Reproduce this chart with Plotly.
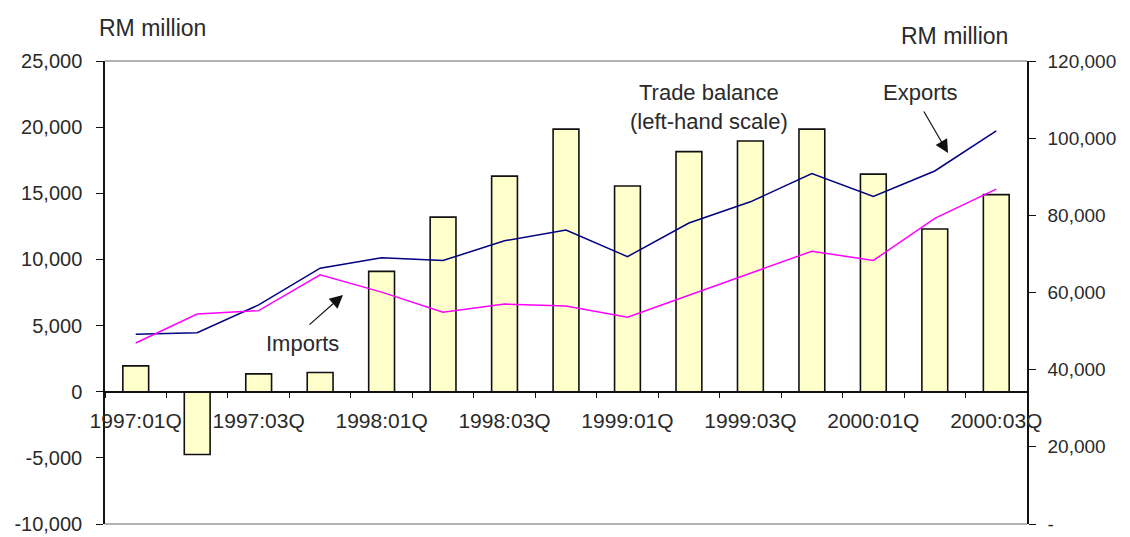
import plotly.graph_objects as go

quarters = ["1997:01Q", "1997:02Q", "1997:03Q", "1997:04Q",
            "1998:01Q", "1998:02Q", "1998:03Q", "1998:04Q",
            "1999:01Q", "1999:02Q", "1999:03Q", "1999:04Q",
            "2000:01Q", "2000:02Q", "2000:03Q"]
tick_labels = [q if i % 2 == 0 else "" for i, q in enumerate(quarters)]

trade_balance = [1950, -4750, 1350, 1450, 9100, 13200, 16300, 19850,
                 15550, 18150, 18950, 19850, 16450, 12300, 14900]
exports = [49200, 49600, 56800, 66300, 69000, 68300, 73400, 76200,
           69300, 78000, 83500, 90800, 84900, 91500, 101900]
imports = [46900, 54400, 55300, 64600, 60100, 54900, 57000, 56500,
           53600, 59400, 65000, 70700, 68300, 79200, 86800]

left_ticks = [-10000, -5000, 0, 5000, 10000, 15000, 20000, 25000]
left_tick_text = ["-10,000", "-5,000", "0", "5,000", "10,000", "15,000", "20,000", "25,000"]
right_ticks = [0, 20000, 40000, 60000, 80000, 100000, 120000]
right_tick_text = ["-", "20,000", "40,000", "60,000", "80,000", "100,000", "120,000"]

W, H = 1130, 537
L, R, T, B = 105, 1027, 61, 524
TXT = "#2a2a2a"
FONT = "Liberation Sans, Arial, sans-serif"


def px(xp):
    return (xp - L) / (R - L)


def py(yp):
    return (B - yp) / (B - T)


fig = go.Figure()
fig.add_trace(go.Bar(
    x=quarters, y=trade_balance, name="Trade balance", yaxis="y",
    width=0.42, marker=dict(color="#FFFFCC", line=dict(color="#111111", width=1.6)),
))
fig.add_trace(go.Scatter(
    x=quarters, y=exports, name="Exports", yaxis="y2", mode="lines",
    line=dict(color="#000080", width=1.5),
))
fig.add_trace(go.Scatter(
    x=quarters, y=imports, name="Imports", yaxis="y2", mode="lines",
    line=dict(color="#FF00FF", width=1.5),
))

fig.update_layout(
    width=W, height=H,
    margin=dict(l=L, r=W - R, t=T, b=H - B, autoexpand=False),
    paper_bgcolor="white", plot_bgcolor="white",
    showlegend=False,
    font=dict(family=FONT, color=TXT, size=20),
    xaxis=dict(
        type="category", range=[-0.5, 14.5],
        tickvals=quarters, ticktext=tick_labels,
        tickson="boundaries", ticks="outside", ticklen=6, tickwidth=1.3,
        tickcolor="#111111",
        showline=True, linecolor="#111111", linewidth=1.5,
        showgrid=False, zeroline=False, automargin=False,
        anchor="free", position=10000 / 35000,
        tickfont=dict(size=21, color=TXT), ticklabelstandoff=10,
        tickangle=0,
    ),
    yaxis=dict(
        range=[-10000, 25000], tickvals=left_ticks, ticktext=left_tick_text,
        ticks="outside", ticklen=7, tickcolor="#111111",
        showline=True, linecolor="#111111", linewidth=1.5,
        showgrid=False, zeroline=False, ticklabeloverflow="allow",
        automargin=False,
        tickfont=dict(size=20, color=TXT), ticklabelstandoff=10,
    ),
    yaxis2=dict(
        range=[0, 120000], tickvals=right_ticks, ticktext=right_tick_text,
        overlaying="y", side="right",
        ticks="outside", ticklen=7, tickcolor="#111111",
        showline=True, linecolor="#111111", linewidth=1.5,
        showgrid=False, zeroline=False, ticklabeloverflow="allow",
        automargin=False,
        tickfont=dict(size=19, color=TXT), ticklabelstandoff=8,
    ),
    shapes=[
        dict(type="line", xref="paper", yref="paper", x0=0, x1=1, y0=1, y1=1,
             line=dict(color="#999999", width=1.5)),
        dict(type="line", xref="paper", yref="paper", x0=0, x1=1, y0=0, y1=0,
             line=dict(color="#999999", width=1.5)),
    ],
)

annotations = [
    dict(text="RM million", x=px(97), y=py(28), xanchor="left", yanchor="middle",
         font=dict(size=23)),
    dict(text="RM million", x=px(1010), y=py(36), xanchor="right", yanchor="middle",
         font=dict(size=23)),
    dict(text="Trade balance<br>(left-hand scale)", x=px(709), y=py(107),
         xanchor="center", yanchor="middle", font=dict(size=22)),
    dict(text="Exports", x=px(920), y=py(93), xanchor="center", yanchor="middle",
         font=dict(size=22)),
    dict(text="Imports", x=px(302), y=py(343), xanchor="center", yanchor="middle",
         font=dict(size=22)),
    dict(text="", x=px(948), y=py(153), ax=-25, ay=-43, showarrow=True,
         arrowhead=2, arrowsize=2.2, arrowwidth=1.2, arrowcolor="#111111"),
    dict(text="", x=px(343), y=py(295), ax=-35, ay=31, showarrow=True,
         arrowhead=2, arrowsize=2.2, arrowwidth=1.2, arrowcolor="#111111"),
]
for a in annotations:
    a.setdefault("showarrow", False)
    a["xref"] = "paper"
    a["yref"] = "paper"
fig.update_layout(annotations=annotations)

fig.write_html(
    "out.html",
    config={"displayModeBar": False},
    post_script="document.body.style.margin='0';document.body.style.padding='0';",
)
